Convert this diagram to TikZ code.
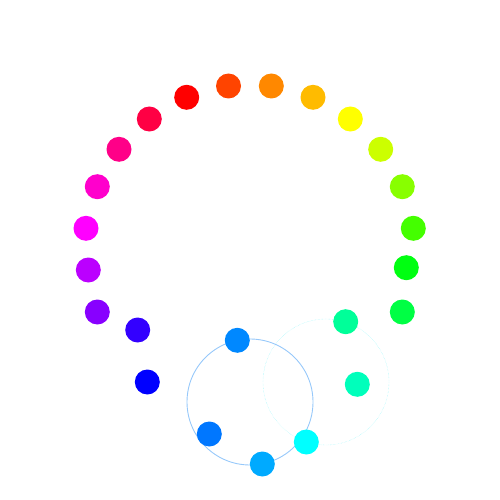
\documentclass[tikz,border=0pt]{standalone}
\usepackage{xcolor}
\usepackage{tikz}
\usetikzlibrary{positioning}
\definecolor{hueA}{RGB}{255,0,0}
\definecolor{hueB}{RGB}{255,68,0}
\definecolor{hueC}{RGB}{255,136,0}
\definecolor{hueD}{RGB}{255,187,0}
\definecolor{hueE}{RGB}{255,255,0}
\definecolor{hueF}{RGB}{204,255,0}
\definecolor{hueG}{RGB}{136,255,0}
\definecolor{hueH}{RGB}{68,255,0}
\definecolor{hueI}{RGB}{0,255,17}
\definecolor{hueJ}{RGB}{0,255,68}
\definecolor{hueK}{RGB}{0,255,153}
\definecolor{hueL}{RGB}{0,255,187}
\definecolor{hueM}{RGB}{0,255,255}
\definecolor{hueN}{RGB}{0,170,255}
\definecolor{hueO}{RGB}{0,119,255}
\definecolor{hueP}{RGB}{0,136,255}
\definecolor{hueQ}{RGB}{0,0,255}
\definecolor{hueR}{RGB}{51,0,255}
\definecolor{hueS}{RGB}{136,0,255}
\definecolor{hueT}{RGB}{187,0,255}
\definecolor{hueU}{RGB}{255,0,255}
\definecolor{hueV}{RGB}{255,0,204}
\definecolor{hueW}{RGB}{255,0,136}
\definecolor{hueX}{RGB}{255,0,68}
\definecolor{orbitblue}{RGB}{150,200,250}
\definecolor{orbitcyan}{RGB}{140,245,250}

\begin{document}
\begin{tikzpicture}[
      x=1pt, y=-1pt,
      dot/.style={circle, fill=#1, minimum size=25pt, inner sep=0pt},
      orbit/.style={circle, draw=#1, minimum size=126pt, inner sep=0pt}
  ]
    \useasboundingbox (0,0) rectangle (500,500);

    % two orbits under the dots
    \node[orbit=orbitcyan, densely dotted] (orbitR) at (326,382) {};
    \node[orbit=orbitblue, line width=0.9pt] (orbitL) at (250,402) {};

    \node[dot=hueA] (red)     at (186.7,97.3)  {};
    \node[dot=hueB] (vermil)  at (228.5,86)    {};
    \node[dot=hueC] (orange)  at (271.3,86)    {};
    \node[dot=hueD] (amber)   at (313,97.3)    {};
    \node[dot=hueE] (yellow)  at (350.3,119)   {};
    \node[dot=hueF] (lime)    at (380.7,149.3) {};
    \node[dot=hueG] (chart)   at (402.3,186.7) {};
    \node[dot=hueH] (grassy)  at (413.3,228.3) {};
    \node[dot=hueI] (green)   at (406.3,267.7) {};
    \node[dot=hueJ] (emerald) at (402.3,312)   {};
    \node[dot=hueK] (spring)  at (345.7,321.7) {};
    \node[dot=hueL] (aqua)    at (357.3,384.3) {};
    \node[dot=hueM] (cyan)    at (306.3,442)   {};
    \node[dot=hueN] (sky)     at (262.3,464)   {};
    \node[dot=hueO] (azure)   at (209.3,434)   {};
    \node[dot=hueP] (cobalt)  at (237.3,340.3) {};
    \node[dot=hueQ] (blue)    at (147.3,382)   {};
    \node[dot=hueR] (indigo)  at (137.7,330)   {};
    \node[dot=hueS] (violet)  at (97.3,312)    {};
    \node[dot=hueT] (purple)  at (88.3,270)    {};
    \node[dot=hueU] (magenta) at (86,228.3)    {};
    \node[dot=hueV] (fuchsia) at (97.3,186.7)  {};
    \node[dot=hueW] (rose)    at (119,149.3)   {};
    \node[dot=hueX] (crimson) at (149.3,119)   {};
  \end{tikzpicture}
\end{document}
